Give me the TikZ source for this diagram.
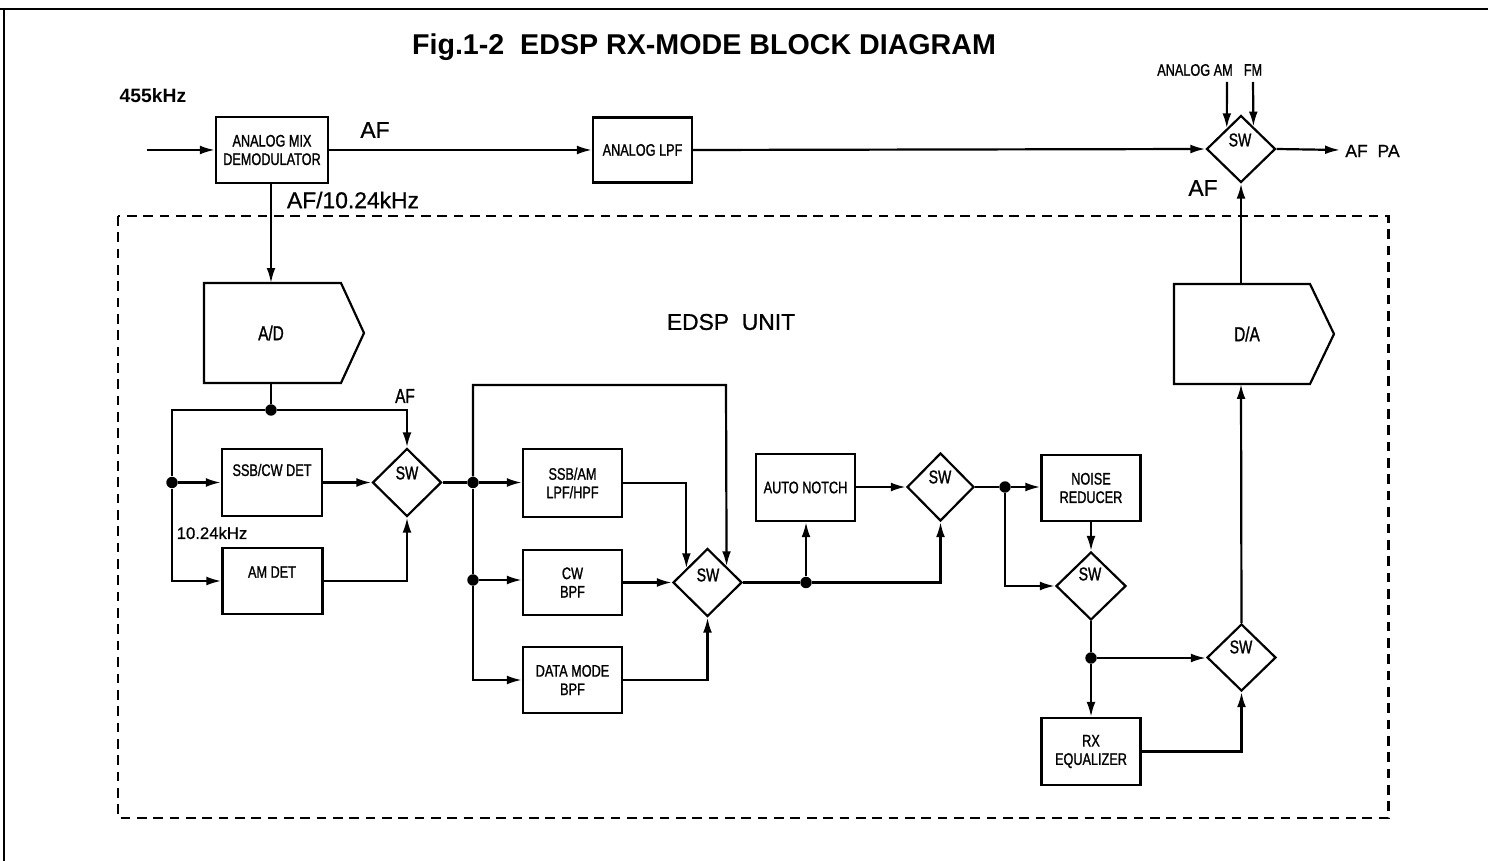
\documentclass[tikz,border=0pt]{standalone}
\usepackage{fontspec}
\setmainfont{Liberation Sans}
\newfontfamily\narrowfont[FakeStretch=0.76,FakeBold=1.2]{Liberation Sans}
\newfontfamily\medfont[FakeBold=0.8]{Liberation Sans}
\usetikzlibrary{arrows.meta,shapes.geometric,calc}
\tikzset{
  wire/.style={line width=1.25pt},
  arr/.style={line width=1.25pt,-{Latex[length=8.5pt,width=5pt]}},
  blk/.style={draw,line width=1.25pt,rectangle,inner sep=0pt,align=center,font=\narrowfont\fontsize{9.5}{10.5}\selectfont},
  swd/.style={draw,line width=1.25pt,diamond,inner sep=0pt,minimum width=1.38cm,minimum height=1.36cm},
  swl/.style={inner sep=0pt,font=\narrowfont\fontsize{10.5}{11}\selectfont},
  lbl/.style={inner sep=0pt,font=\narrowfont\fontsize{9.5}{10.5}\selectfont},
  big/.style={inner sep=0pt,font=\medfont\fontsize{13}{15}\selectfont},
  dot/.style={circle,fill=black,inner sep=0pt,minimum size=6.5pt},
}
\begin{document}
\begin{tikzpicture}[x=0.02cm,y=-0.02cm]
\useasboundingbox (0,0) rectangle (1488,861);
% frame
\draw[line width=1.6pt] (0,9) -- (1488,9);
\draw[line width=1.6pt] (4,9) -- (4,861);
% EDSP unit
\draw[line width=1.7pt,dash pattern=on 5.5pt off 3.8pt] (118,216) rectangle (1388,818);

% texts
\node[inner sep=0pt,font=\bfseries\fontsize{16.3}{18}\selectfont] (title) at (704,47) {Fig.1-2\ \ EDSP RX-MODE BLOCK DIAGRAM};
\node[inner sep=0pt,font=\bfseries\fontsize{11}{12}\selectfont] (t455) at (153,96) {455kHz};
\node[big] (tafa) at (375,130) {AF};
\node[big] (tafb) at (353,200) {AF/10.24kHz};
\node[big] (tedsp) at (731,322) {EDSP\ \ UNIT};
\node[lbl,font=\narrowfont\fontsize{11.5}{12}\selectfont] (tafc) at (405,396) {AF};
\node[inner sep=0pt,font=\medfont\fontsize{9.5}{11}\selectfont] (t1024) at (212,533) {10.24kHz};
\node[lbl] (tanam) at (1195,70) {ANALOG AM};
\node[lbl] (tfm) at (1253,70) {FM};
\node[inner sep=0pt,anchor=west,font=\medfont\fontsize{10}{11}\selectfont] (tafpa) at (1345,151) {AF\ \ PA};
\node[big] (tafd) at (1203,188) {AF};

% blocks
\node[blk,minimum width=2.24cm,minimum height=1.32cm] (mix) at (272,150) {ANALOG MIX\\DEMODULATOR};
\node[blk,minimum width=1.98cm,minimum height=1.3cm] (lpf) at (642.5,150) {ANALOG LPF};
\node[blk,minimum width=2cm,minimum height=1.34cm] (ssbcw) at (272,482.5) {};
\node[lbl] (ssbcwl) at (272,470) {SSB/CW DET};
\node[blk,minimum width=2cm,minimum height=1.32cm] (amdet) at (272.5,581) {};
\node[lbl] (amdetl) at (272,572) {AM DET};
\node[blk,minimum width=1.98cm,minimum height=1.36cm] (ssbam) at (572.5,483) {SSB/AM\\LPF/HPF};
\node[blk,minimum width=1.98cm,minimum height=1.3cm] (cwbpf) at (572.5,582.5) {CW\\BPF};
\node[blk,minimum width=1.98cm,minimum height=1.32cm] (data) at (572.5,680) {DATA MODE\\BPF};
\node[blk,minimum width=1.98cm,minimum height=1.34cm] (notch) at (805.5,487.5) {AUTO NOTCH};
\node[blk,minimum width=1.98cm,minimum height=1.32cm] (nr) at (1091,488) {NOISE\\REDUCER};
\node[blk,minimum width=1.98cm,minimum height=1.34cm] (rxeq) at (1091,751.5) {RX\\EQUALIZER};

% A/D and D/A
\draw[line width=1.25pt] (204,283) -- (341,283) -- (364,333) -- (341,383) -- (204,383) -- cycle;
\node[lbl,font=\narrowfont\fontsize{11.5}{12}\selectfont] (ad) at (271,333) {A/D};
\coordinate (adtop) at (271,283);
\coordinate (adbot) at (271,383);
\draw[line width=1.25pt] (1174,284) -- (1310,284) -- (1334,334) -- (1310,384) -- (1174,384) -- cycle;
\node[lbl,font=\narrowfont\fontsize{11.5}{12}\selectfont] (da) at (1247,334) {D/A};
\coordinate (datop) at (1241,284);
\coordinate (dabot) at (1241,384);

% switches
\node[swd,minimum width=1.38cm,minimum height=1.34cm] (swt) at (1241,149) {};
\node[swl] (swtl) at (1240,140) {SW};
\node[swd] (sw1) at (407,482.5) {};
\node[swl] (sw1l) at (407,473) {SW};
\node[swd] (sw2) at (707.5,582.5) {};
\node[swl] (sw2l) at (708,575) {SW};
\node[swd,minimum width=1.34cm] (sw3) at (940.5,487) {};
\node[swl] (sw3l) at (940,477) {SW};
\node[swd,minimum width=1.4cm] (sw4) at (1091,586) {};
\node[swl] (sw4l) at (1090,574) {SW};
\node[swd,minimum height=1.34cm] (sw5) at (1241.5,657.5) {};
\node[swl] (sw5l) at (1241,647) {SW};

% dots
\node[dot] (d1) at (271,410) {};
\node[dot] (d2) at (172,482.5) {};
\node[dot] (d3) at (473,482.5) {};
\node[dot] (d4) at (473,580) {};
\node[dot] (d5) at (806,582.5) {};
\node[dot] (d6) at (1005,487) {};
\node[dot] (d7) at (1091,658) {};

% free ends
\coordinate (in455) at (147,150);
\coordinate (am) at (1227,82);
\coordinate (fm) at (1253,82);
\coordinate (afpa) at (1340,150);
\coordinate (loopc) at (726,385);

% connectors (top)
\draw[arr] (in455) -- (mix.west |- in455);
\draw[arr] (mix.east) -- (lpf.west);
\draw[arr] (lpf.east) -- (swt.west);
\draw[arr] (am) -- ($(swt.north)!0.4!(swt.west)$);
\draw[arr] (fm) -- ($(swt.north)!0.35!(swt.east)$);
\draw[arr] (swt.east) -- (afpa);
\draw[arr] (mix.south -| adtop) -- (adtop);
\draw[arr] (datop) -- (swt.south);

% left section
\draw[wire] (adbot) -- (d1);
\draw[arr] (d1) -| (sw1.north);
\draw[wire] (d1) -| (d2);
\draw[arr] (d2) -- (ssbcw.west |- d2);
\draw[arr] (d2) |- (amdet.west);
\draw[arr] (ssbcw.east |- sw1) -- (sw1.west);
\draw[arr] (amdet.east) -| (sw1.south);
\draw[wire] (sw1.east) -- (d3);

% filter section
\draw[arr] (d3) -- (ssbam.west |- d3);
\draw[arr] (d3) |- (loopc) -- ($(sw2.north)!0.536!(sw2.east)$);
\draw[wire] (d3) -- (d4);
\draw[arr] (d4) -- (cwbpf.west |- d4);
\draw[arr] (d4) |- (data.west);
\draw[arr] (ssbam.east) -| ($(sw2.north)!0.594!(sw2.west)$);
\draw[arr] (cwbpf.east |- sw2) -- (sw2.west);
\draw[arr] (data.east) -| (sw2.south);

% notch / NR section
\draw[wire] (sw2.east) -- (d5);
\draw[arr] (d5) -- (d5 |- notch.south);
\draw[arr] (d5) -| (sw3.south);
\draw[arr] (notch.east |- sw3) -- (sw3.west);
\draw[wire] (sw3.east) -- (d6);
\draw[arr] (d6) -- (nr.west |- d6);
\draw[arr] (d6) |- (sw4.west);
\draw[arr] (nr.south) -- (sw4.north);
\draw[wire] (sw4.south) -- (d7);
\draw[arr] (d7) -- (rxeq.north);
\draw[arr] (d7) -- (sw5.west |- d7);
\draw[arr] (rxeq.east) -| (sw5.south);
\draw[arr] (sw5.north) -- (dabot);
\end{tikzpicture}
\end{document}
